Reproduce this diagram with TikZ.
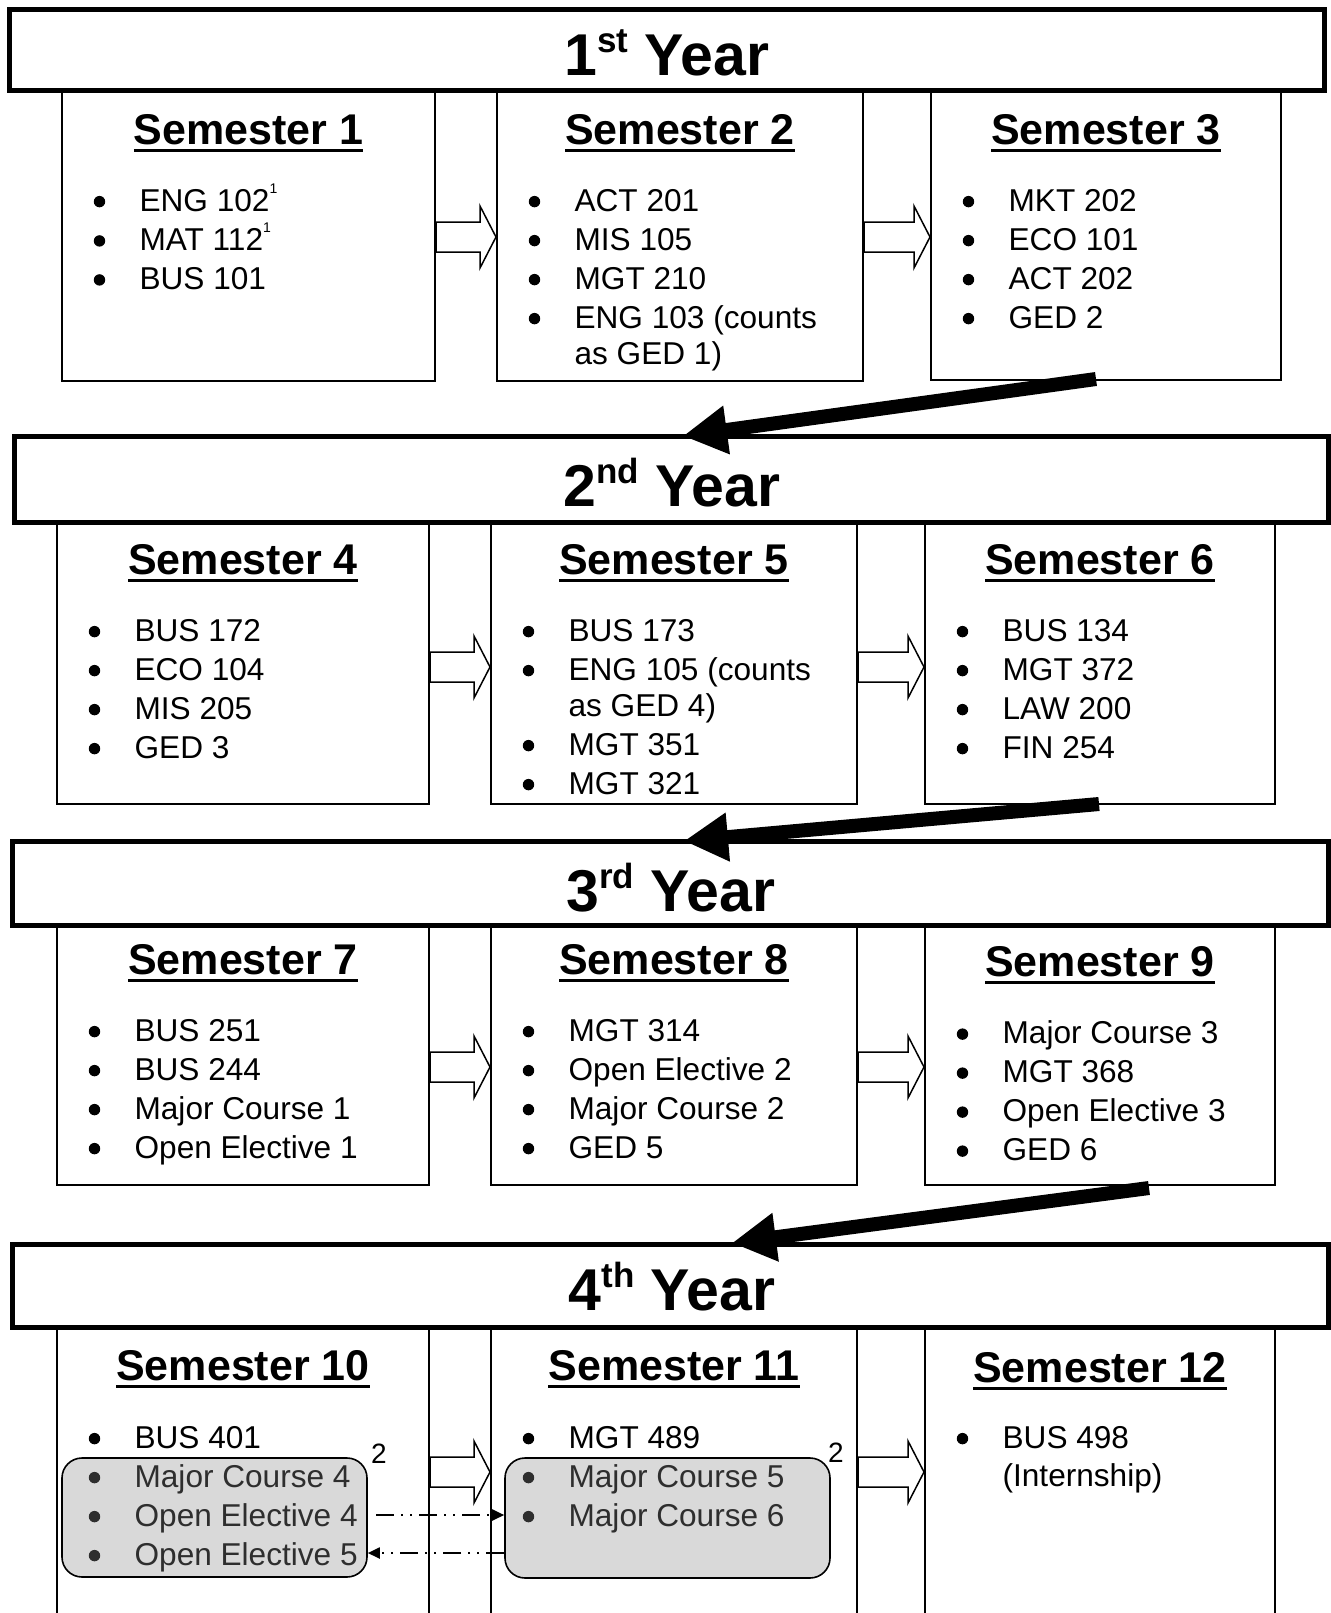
\documentclass[tikz,border=0pt]{standalone}
\usepackage{fontspec}
\setmainfont{Liberation Sans}
\usetikzlibrary{arrows.meta,calc,fit}

\newsavebox\ulbox
\newcommand\ulx[1]{\sbox\ulbox{#1}\rlap{\rule[-4pt]{\wd\ulbox}{1.75pt}}\usebox\ulbox}
\newcommand\bdot{\tikz[baseline=-4.7pt]\fill (0,0) circle[radius=2.85pt];}
\newcommand\bi{\makebox[22.9pt][l]{\bdot}}
\newcommand\ci{\hspace*{22.9pt}}
\newcommand\fn[1]{\raisebox{9pt}{\fontsize{7}{7}\selectfont #1}}
\newcommand\gi[1]{{\color{black!82}\bi #1}}
\newcommand\yr[2]{#1\raisebox{11.5pt}{\fontsize{17.5}{17.5}\selectfont #2} Year}
\newcommand\harrow[2]{%
  \draw[hollow] ($(#1)+(0,-15)$) -- ($(#2)+(-16,-15)$) -- ($(#2)+(-16,-31)$) -- (#2)
    -- ($(#2)+(-16,31)$) -- ($(#2)+(-16,15)$) -- ($(#1)+(0,15)$) -- cycle;}

\tikzset{
  yearbox/.style={draw, line width=2.5pt, inner sep=0pt},
  sembox/.style={draw, line width=1pt, inner sep=0pt},
  graybox/.style={draw, fill=black!15, line width=0.8pt, rounded corners=10pt, inner sep=0pt},
  yeartitle/.style={font=\fontsize{29.5}{31}\selectfont\bfseries, inner sep=0pt, anchor=base},
  semhead/.style={font=\fontsize{21.5}{24}\selectfont\bfseries, inner sep=0pt, anchor=base},
  items/.style={font=\fontsize{15.8}{19.5}\selectfont, inner sep=0pt, anchor=base west},
  fnote/.style={font=\fontsize{14}{14}\selectfont, inner sep=0pt},
  hollow/.style={draw, fill=white, line width=0.75pt},
  bigarrow/.style={line width=7pt, -{Triangle[length=22pt,width=23pt]}},
  dashdot/.style={line width=1pt, dash pattern=on 9pt off 3.5pt on 1pt off 3.5pt on 1pt off 3.5pt,
    -{Triangle[length=6pt,width=5.5pt]}}
}

\begin{document}
\begin{tikzpicture}[x=0.5pt,y=-0.5pt]
\useasboundingbox (0,0) rectangle (1331,1613);
\fill[white] (0,0) rectangle (1331,1613);

% semester boxes
\node[sembox, fit={(62,90.5) (435,381)}] (s1) {};
\node[sembox, fit={(497,90.5) (863,381)}] (s2) {};
\node[sembox, fit={(931,90.5) (1281,380)}] (s3) {};
\node[sembox, fit={(57,522.5) (429,804)}] (s4) {};
\node[sembox, fit={(491,522.5) (857,804)}] (s5) {};
\node[sembox, fit={(925,522.5) (1275,804)}] (s6) {};
\node[sembox, fit={(57,925.5) (429,1185)}] (s7) {};
\node[sembox, fit={(491,925.5) (857,1185)}] (s8) {};
\node[sembox, fit={(925,925.5) (1275,1185)}] (s9) {};
\node[sembox, fit={(57,1327.5) (429,1640)}] (s10) {};
\node[sembox, fit={(491,1327.5) (857,1640)}] (s11) {};
\node[sembox, fit={(925,1327.5) (1275,1640)}] (s12) {};

% year boxes
\node[yearbox, fit={(9.5,9.5) (1324.5,90.5)}] (y1) {};
\node[yearbox, fit={(14.5,436.5) (1328.5,522.5)}] (y2) {};
\node[yearbox, fit={(12.5,841.5) (1328.5,925.5)}] (y3) {};
\node[yearbox, fit={(12.5,1244.5) (1328.5,1327.5)}] (y4) {};

\node[yeartitle] (t1) at (667,75) {\yr{1}{st}};
\node[yeartitle] (t2) at (672,506) {\yr{2}{nd}};
\node[yeartitle] (t3) at (671,911) {\yr{3}{rd}};
\node[yeartitle] (t4) at (672,1310) {\yr{4}{th}};

% gray groups
\node[graybox, fit={(62,1458) (367,1577)}] (g10) {};
\node[graybox, fit={(505,1458) (830,1578)}] (g11) {};

% headers
\node[semhead] (h1) at (248.5,144) {\ulx{Semester 1}};
\node[semhead] (h2) at (680,144) {\ulx{Semester 2}};
\node[semhead] (h3) at (1106,144) {\ulx{Semester 3}};
\node[semhead] (h4) at (243,574) {\ulx{Semester 4}};
\node[semhead] (h5) at (674,574) {\ulx{Semester 5}};
\node[semhead] (h6) at (1100,574) {\ulx{Semester 6}};
\node[semhead] (h7) at (243,974) {\ulx{Semester 7}};
\node[semhead] (h8) at (674,974) {\ulx{Semester 8}};
\node[semhead] (h9) at (1100,976) {\ulx{Semester 9}};
\node[semhead] (h10) at (243,1380) {\ulx{Semester 10}};
\node[semhead] (h11) at (674,1380) {\ulx{Semester 11}};
\node[semhead] (h12) at (1100,1382) {\ulx{Semester 12}};

% items
\node[items] (i1) at (93.4,211) {\begin{tabular}[t]{@{}l@{}}
\bi ENG 102\fn{1}\\ \bi MAT 112\fn{1}\\ \bi BUS 101\end{tabular}};
\node[items] (i2) at (528.4,211) {\begin{tabular}[t]{@{}l@{}}
\bi ACT 201\\ \bi MIS 105\\ \bi MGT 210\\ \bi ENG 103 (counts\\[-1.5pt] \ci as GED 1)\end{tabular}};
\node[items] (i3) at (962.4,211) {\begin{tabular}[t]{@{}l@{}}
\bi MKT 202\\ \bi ECO 101\\ \bi ACT 202\\ \bi GED 2\end{tabular}};
\node[items] (i4) at (88.4,641) {\begin{tabular}[t]{@{}l@{}}
\bi BUS 172\\ \bi ECO 104\\ \bi MIS 205\\ \bi GED 3\end{tabular}};
\node[items] (i5) at (522.4,641) {\begin{tabular}[t]{@{}l@{}}
\bi BUS 173\\ \bi ENG 105 (counts\\[-1.5pt] \ci as GED 4)\\ \bi MGT 351\\ \bi MGT 321\end{tabular}};
\node[items] (i6) at (956.4,641) {\begin{tabular}[t]{@{}l@{}}
\bi BUS 134\\ \bi MGT 372\\ \bi LAW 200\\ \bi FIN 254\end{tabular}};
\node[items] (i7) at (88.4,1041) {\begin{tabular}[t]{@{}l@{}}
\bi BUS 251\\ \bi BUS 244\\ \bi Major Course 1\\ \bi Open Elective 1\end{tabular}};
\node[items] (i8) at (522.4,1041) {\begin{tabular}[t]{@{}l@{}}
\bi MGT 314\\ \bi Open Elective 2\\ \bi Major Course 2\\ \bi GED 5\end{tabular}};
\node[items] (i9) at (956.4,1043.5) {\begin{tabular}[t]{@{}l@{}}
\bi Major Course 3\\ \bi MGT 368\\ \bi Open Elective 3\\ \bi GED 6\end{tabular}};
\node[items] (i10) at (88.4,1448) {\begin{tabular}[t]{@{}l@{}}
\bi BUS 401\\ \gi{Major Course 4}\\ \gi{Open Elective 4}\\ \gi{Open Elective 5}\end{tabular}};
\node[items] (i11) at (522.4,1448) {\begin{tabular}[t]{@{}l@{}}
\bi MGT 489\\ \gi{Major Course 5}\\ \gi{Major Course 6}\end{tabular}};
\node[items] (i12) at (956.4,1448) {\begin{tabular}[t]{@{}l@{}}
\bi BUS 498\\[-0.5pt] \ci (Internship)\end{tabular}};

\node[fnote] (n10) at (379,1454) {2};
\node[fnote] (n11) at (836,1453) {2};

% hollow arrows
\coordinate (r1) at (0,237);
\coordinate (r2) at (0,667);
\coordinate (r3) at (0,1067);
\coordinate (r4) at (0,1472);
\harrow{s1.east |- r1}{s2.west |- r1}
\harrow{s2.east |- r1}{s3.west |- r1}
\harrow{s4.east |- r2}{s5.west |- r2}
\harrow{s5.east |- r2}{s6.west |- r2}
\harrow{s7.east |- r3}{s8.west |- r3}
\harrow{s8.east |- r3}{s9.west |- r3}
\harrow{s10.east |- r4}{s11.west |- r4}
\harrow{s11.east |- r4}{s12.west |- r4}

% big arrows between years
\coordinate (b1s) at (1096,379);
\coordinate (b1e) at (683,436);
\coordinate (b2s) at (1099,804);
\coordinate (b2e) at (684,841);
\coordinate (b3s) at (1149,1188);
\coordinate (b3e) at (732,1243);
\draw[bigarrow] (b1s) -- (b1e);
\draw[bigarrow] (b2s) -- (b2e);
\draw[bigarrow] (b3s) -- (b3e);

% dash-dot exchange arrows
\coordinate (e4) at (376,1515);
\coordinate (e5) at (0,1553);
\draw[dashdot] (e4) -- (g11.west |- e4);
\draw[dashdot] (g11.west |- e5) -- (g10.east |- e5);
\end{tikzpicture}
\end{document}
